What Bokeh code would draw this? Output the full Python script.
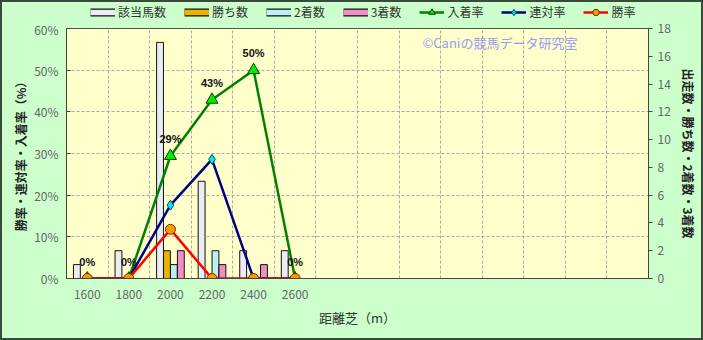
import math
from bokeh.plotting import figure
from bokeh.layouts import column
from bokeh.models import (ColumnDataSource, LinearAxis, Range1d, FactorRange, Legend,
                          LegendItem, Label, FixedTicker, PrintfTickFormatter)
from bokeh.transform import dodge
from bokeh.core.properties import value
from bokeh.embed import file_html
from bokeh.resources import INLINE

# ---- data ----
distances = ["1600", "1800", "2000", "2200", "2400", "2600"]
blank_slots = [" " * i for i in range(1, 9)]
runners = [1, 2, 17, 7, 2, 2]
wins = [0, 0, 2, 0, 0, 0]
seconds = [0, 0, 1, 2, 0, 0]
thirds = [0, 0, 2, 1, 1, 0]
place_rate = [0, 0, 29.4, 42.9, 50.0, 0]
quinella_rate = [0, 0, 17.6, 28.6, 0, 0]
win_rate = [0, 0, 11.8, 0, 0, 0]
place_labels = ["0%", "0%", "29%", "43%", "50%", "0%"]
bar_names = ["該当馬数", "勝ち数", "2着数", "3着数"]
line_names = ["入着率", "連対率", "勝率"]

JP = "Noto Sans CJK JP"
BG = "#CCFFCC"
factors = distances + blank_slots

src = ColumnDataSource(dict(x=distances, runners=runners, wins=wins, seconds=seconds,
                            thirds=thirds, place=place_rate, quin=quinella_rate,
                            win=win_rate, plab=place_labels))

bar_specs = [("runners", -0.25, "#ECECF4"), ("wins", -0.0833, "#E8B400"),
             ("seconds", 0.0833, "#BDEFF4"), ("thirds", 0.25, "#EE90C4")]
line_specs = [("place", "#008000", "triangle", 12, "#00EE00", "#004400"),
              ("quin", "#000080", "diamond", 10, "#00E8F0", "#005050"),
              ("win", "#FF0000", "circle", 10, "#FF9900", "#663300")]

# ---------------- main chart ----------------
p = figure(width=699, height=318, x_range=FactorRange(*factors), y_range=Range1d(0, 60),
           output_backend="svg", toolbar_location=None,
           min_border_left=64, min_border_right=53, min_border_top=8, min_border_bottom=60)
p.border_fill_color = BG
p.background_fill_color = "#FFFFCC"
p.outline_line_color = "#555555"
p.extra_y_ranges = {"cnt": Range1d(0, 18)}

p.yaxis.ticker = FixedTicker(ticks=[0, 10, 20, 30, 40, 50, 60])
p.yaxis.formatter = PrintfTickFormatter(format="%d%%")
p.yaxis.axis_label = "勝率・連対率・入着率（%）"
ax_common = dict(major_label_text_font=JP, major_label_text_font_size="12px",
                 major_label_text_color="#666666", axis_label_text_font=JP,
                 axis_label_text_font_size="12px", axis_label_text_color="#222222",
                 axis_line_color="#444444", major_tick_line_color="#444444",
                 minor_tick_line_color=None)
for k, v in ax_common.items():
    setattr(p.yaxis[0], k, v)
p.yaxis.axis_label_text_font_style = "bold"
p.yaxis.major_tick_in = 4
p.yaxis.major_tick_out = 0
p.yaxis.major_label_standoff = 8
p.yaxis.axis_label_standoff = 2

ry = LinearAxis(y_range_name="cnt", ticker=FixedTicker(ticks=list(range(0, 19, 2))),
                axis_label="出走数・勝ち数・2着数・3着数")
for k, v in ax_common.items():
    setattr(ry, k, v)
ry.axis_label_text_font_style = "bold"
ry.major_tick_in = 0
ry.major_tick_out = 4
ry.major_label_standoff = 5
ry.axis_label_standoff = 6
p.add_layout(ry, "right")

xa = p.xaxis[0]
for k, v in ax_common.items():
    setattr(xa, k, v)
xa.axis_label = "距離芝（m）"
xa.axis_label_text_font_size = "13px"
xa.axis_label_text_font_style = "normal"
xa.axis_label_text_color = "#333333"
xa.major_tick_line_color = None
xa.major_tick_in = 0
xa.major_tick_out = 0
xa.major_label_standoff = 6
xa.axis_label_standoff = 3

p.xgrid.ticker = FixedTicker(ticks=list(range(1, len(factors))))
for g in (p.xgrid[0], p.ygrid[0]):
    g.grid_line_color = "#a8a8a8"
    g.grid_line_dash = "3 2"
    g.grid_line_width = 1

bw = 0.165
for col, off, color in bar_specs:
    p.vbar(x=dodge("x", off, range=p.x_range), top=col, width=bw, source=src,
           y_range_name="cnt", fill_color=color, line_color="#111111", line_width=1)

for col, lc, mk, sz, fc, oc in line_specs:
    p.line("x", col, source=src, line_color=lc, line_width=2.5)
for col, lc, mk, sz, fc, oc in line_specs:
    p.scatter("x", col, source=src, marker=mk, size=sz, fill_color=fc,
              line_color=oc, line_width=1)

p.text("x", "place", text="plab", source=src, text_font=value("Liberation Sans"),
       text_font_size="11px", text_font_style="bold", text_color="#111111",
       text_align="center", text_baseline="middle", y_offset=-17)

p.add_layout(Label(x=356, y=236, x_units="screen", y_units="screen",
                   text="©Caniの競馬データ研究室", text_font=JP, text_font_size="13px",
                   text_color="#9a9af0", text_baseline="middle"))

# ---------------- legend strip ----------------
lf = figure(width=699, height=18, x_range=Range1d(0, 1), y_range=Range1d(0, 1),
            output_backend="svg", toolbar_location=None, x_axis_location=None,
            y_axis_location=None, min_border=0)
lf.border_fill_color = BG
lf.background_fill_color = BG
lf.outline_line_color = None
lf.grid.visible = False

nan = float("nan")
items = []
for (col, off, color), name in zip(bar_specs, bar_names):
    d1 = lf.line(x=[0], y=[nan], line_color="#111111", line_width=8)
    d2 = lf.line(x=[0], y=[nan], line_color=color, line_width=5.5)
    items.append(LegendItem(label=name, renderers=[d1, d2]))
for (col, lc, mk, sz, fc, oc), name in zip(line_specs, line_names):
    d1 = lf.line(x=[0], y=[nan], line_color=lc, line_width=2.5)
    d2 = lf.scatter(x=[0], y=[nan], marker=mk, fill_color=fc, line_color=oc, line_width=1)
    items.append(LegendItem(label=name, renderers=[d1, d2]))
leg = Legend(items=items, orientation="horizontal", location=(24, 0),
             glyph_width=25, glyph_height=16, label_standoff=3, spacing=18,
             padding=0, margin=0, border_line_color=None, background_fill_alpha=0,
             label_text_font=JP, label_text_font_size="12px", label_text_color="#333333",
             label_height=16)
lf.add_layout(leg)

lay = column(lf, p, spacing=0)
lay.styles = {"border": "2px solid #3a4a3a", "background-color": BG}

open("out.html", "w").write(file_html(lay, INLINE))
